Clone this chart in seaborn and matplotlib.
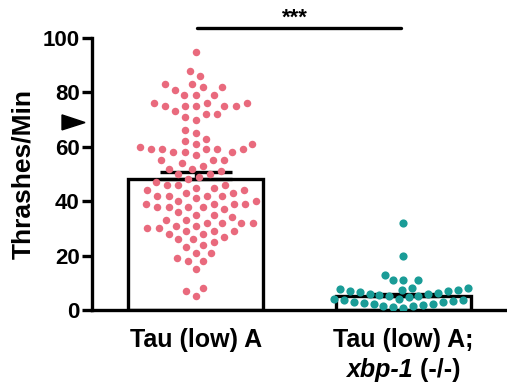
import matplotlib
matplotlib.use("Agg")
import matplotlib.pyplot as plt
import seaborn as sns
from matplotlib.patches import Polygon
from matplotlib.offsetbox import TextArea, HPacker, AnnotationBbox

groups = ["Tau (low) A", "Tau (low) A;"]
bar_means = [48.3, 5.2]
bar_sem = [2.3, 0.7]

# thrashes per minute, one value per animal
tau_a = [95, 88, 86, 83, 83, 82, 82, 81, 79, 79, 79, 76, 76, 76, 75, 75, 75, 75, 75,
         73, 72, 72, 71, 70, 66, 65, 63, 62,
         61, 61, 60, 59, 59, 59, 59, 59, 58, 58, 58, 57,
         55, 55, 55, 54, 53, 52, 52, 51,
         50, 50, 49,
         48, 47, 46, 46, 46, 45, 45,
         44, 44, 43, 43, 42, 42, 42, 42, 41,
         40, 40, 39, 39, 39, 39, 38, 38, 38, 38, 37, 36, 35,
         35, 34, 33, 33, 32, 32, 32, 32, 31, 31, 30,
         30, 29, 29, 29, 28, 28, 27,
         26, 26, 25, 24, 23, 21, 21, 19, 18, 18, 15, 8, 7, 5]
tau_xbp = [0.9, 1.1, 1.3, 1.6, 1.8, 2.1, 2.3, 2.6, 2.8, 3.1, 3.3, 3.6, 3.8, 4.0, 4.2,
           4.8, 5.0, 5.3, 5.5, 5.8, 6.0, 6.3, 6.5, 6.8, 7.0, 7.3, 7.5, 7.8, 8.0, 8.2,
           11, 11, 11, 13, 20, 32]

pink = "#E96A7D"
teal = "#1A9C97"
pink_dot = 5.4
teal_dot = 5.9

sns.set_style("ticks")
plt.rcParams["font.family"] = ["Liberation Sans", "DejaVu Sans"]
plt.rcParams["font.weight"] = "bold"
for k in ["text.color", "axes.labelcolor", "xtick.color", "ytick.color"]:
    plt.rcParams[k] = "black"

fig = plt.figure(figsize=(5.07, 3.87), dpi=100)
ax = fig.add_axes([0.1815, 0.199, 0.8185, 0.703])

sns.barplot(x=groups, y=bar_means, order=groups, color="white", edgecolor="black",
            linewidth=2.4, width=0.65, saturation=1, errorbar=None, ax=ax, zorder=1)
ax.errorbar([0, 1], bar_means, yerr=[[0, 0], bar_sem], fmt="none", ecolor="black",
            elinewidth=2.4, capsize=26, capthick=2.4, zorder=2)

# swarms are laid out with a bigger marker, the dots are shrunk afterwards
n_before = len(ax.collections)
sns.swarmplot(x=[groups[0]] * len(tau_a), y=tau_a, order=groups, color=pink,
              size=7.8, linewidth=0, ax=ax, zorder=3)
pink_swarm = [c for c in ax.collections[n_before:] if "draw" in vars(c)]
n_before = len(ax.collections)
sns.swarmplot(x=[groups[1]] * len(tau_xbp), y=tau_xbp, order=groups, color=teal,
              size=6.84, linewidth=0, ax=ax, zorder=3)
teal_swarm = [c for c in ax.collections[n_before:] if "draw" in vars(c)]

ax.set_xlim(-0.5, 1.5)
ax.set_ylim(0, 100)
ax.set_yticks(range(0, 101, 20))
ax.set_xticks([0, 1], labels=groups)
ax.set_xlabel("")
ax.set_ylabel("Thrashes/Min", fontsize=19, fontweight="bold", labelpad=5)
ax.tick_params(axis="y", length=7, width=2.4, labelsize=16, pad=2)
ax.tick_params(axis="x", length=0, labelsize=18, pad=13)
for s in ["top", "right"]:
    ax.spines[s].set_visible(False)
for s in ["left", "bottom"]:
    ax.spines[s].set_linewidth(2.4)
    ax.spines[s].set_color("black")

line2 = HPacker(children=[
    TextArea("xbp-1", textprops=dict(fontsize=18, fontweight="bold", fontstyle="italic")),
    TextArea(" (-/-)", textprops=dict(fontsize=18, fontweight="bold"))],
    pad=0, sep=0, align="baseline")
ab = AnnotationBbox(line2, (1, 0), xycoords=("data", "axes fraction"), xybox=(0, -43),
                    boxcoords="offset points", box_alignment=(0.5, 0.5), frameon=False,
                    annotation_clip=False)
ax.add_artist(ab)

tri = Polygon([[-0.0723, 0.717], [-0.0723, 0.662], [-0.0169, 0.689]], closed=True,
              transform=ax.transAxes, clip_on=False, color="black")
ax.add_artist(tri)

ax.plot([0.005, 0.99], [103.7, 103.7], color="black", lw=2.4, clip_on=False)
ax.text(0.48, 105.2, "***", ha="center", va="baseline", fontsize=16,
        fontweight="bold", clip_on=False)

fig.canvas.draw()
for c in pink_swarm:
    del c.draw
    c.set_sizes([pink_dot ** 2])
for c in teal_swarm:
    del c.draw
    c.set_sizes([teal_dot ** 2])

fig.savefig("out.png", dpi=100)
